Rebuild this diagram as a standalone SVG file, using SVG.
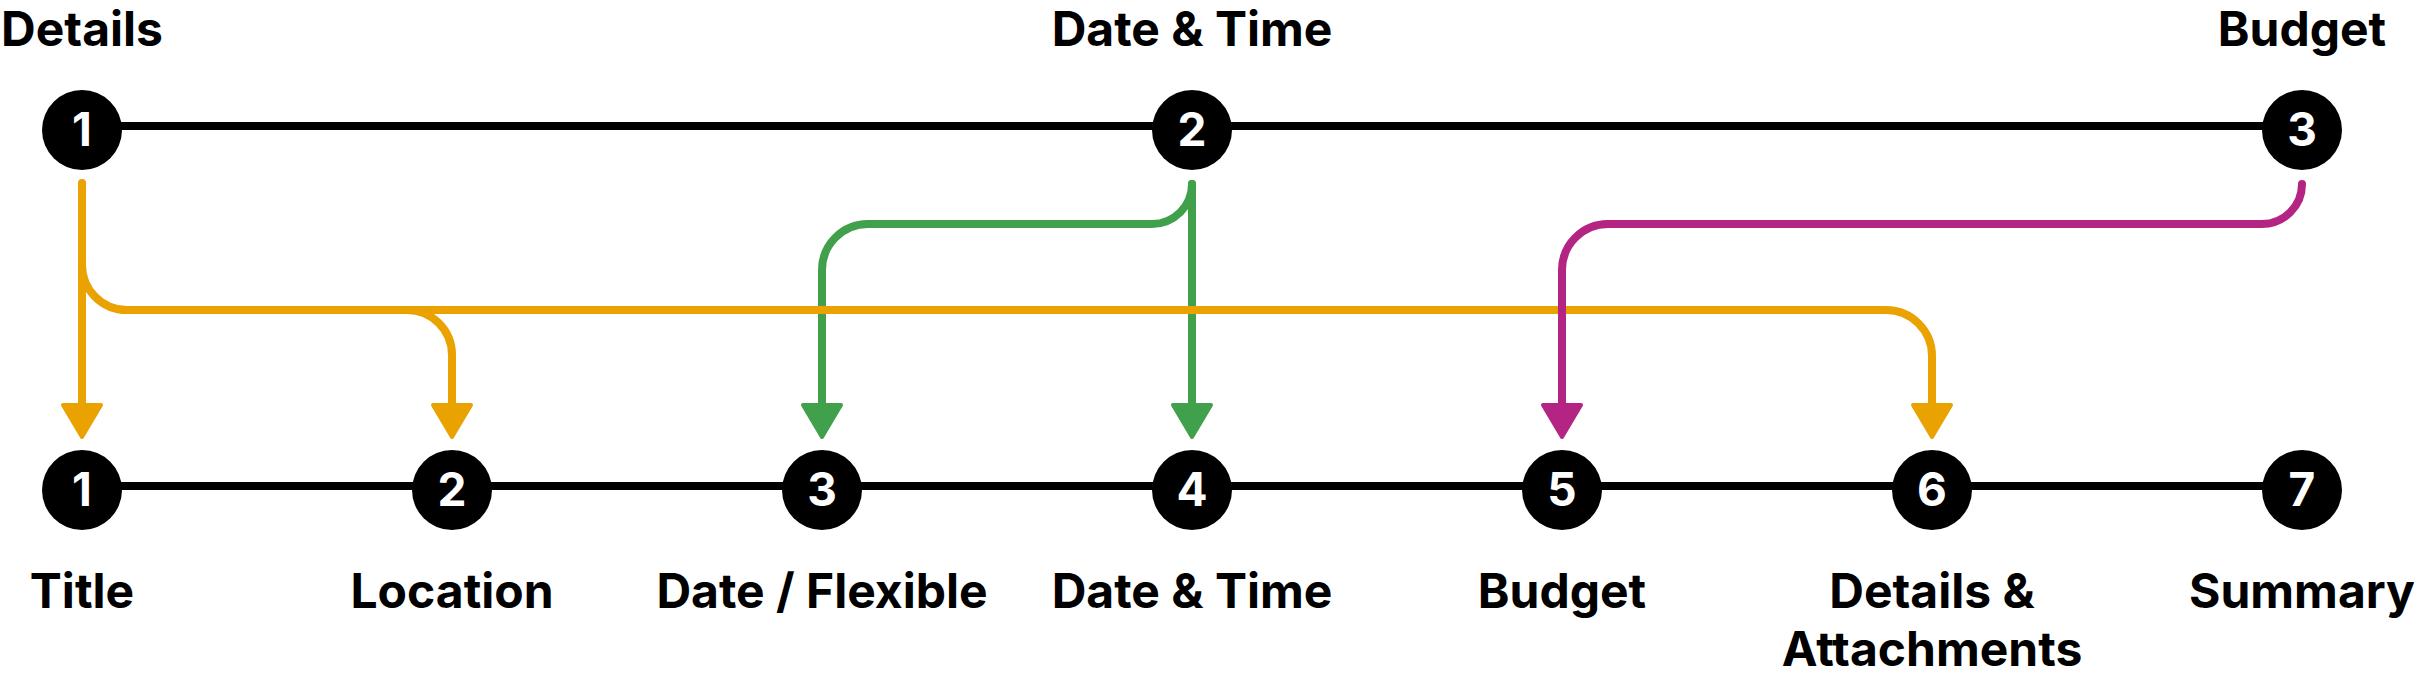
<svg xmlns="http://www.w3.org/2000/svg" width="2414" height="678" viewBox="0 0 2414 678">
<style>
.lbl{font-family:Inter,"Liberation Sans",sans-serif;font-weight:700;font-size:48px;fill:#000;text-anchor:middle}
.num{font-family:Inter,"Liberation Sans",sans-serif;font-weight:700;font-size:46px;fill:#fff;text-anchor:middle}
.dot{fill:#000}
.rail{stroke:#000;stroke-width:8;fill:none}
.c{fill:none;stroke-width:8;stroke-linecap:round}
.o{stroke:#E9A200}
.g{stroke:#40A04B}
.m{stroke:#B32483}
</style>
<defs>
<marker id="ao" markerUnits="userSpaceOnUse" viewBox="-4 -24 44 48" markerWidth="44" markerHeight="48" refX="0" refY="0" orient="auto" overflow="visible"><path d="M0,-19 L32,0 L0,19 Z" fill="#E9A200" stroke="#E9A200" stroke-width="4" stroke-linejoin="round"/></marker>
<marker id="ag" markerUnits="userSpaceOnUse" viewBox="-4 -24 44 48" markerWidth="44" markerHeight="48" refX="0" refY="0" orient="auto" overflow="visible"><path d="M0,-19 L32,0 L0,19 Z" fill="#40A04B" stroke="#40A04B" stroke-width="4" stroke-linejoin="round"/></marker>
<marker id="am" markerUnits="userSpaceOnUse" viewBox="-4 -24 44 48" markerWidth="44" markerHeight="48" refX="0" refY="0" orient="auto" overflow="visible"><path d="M0,-19 L32,0 L0,19 Z" fill="#B32483" stroke="#B32483" stroke-width="4" stroke-linejoin="round"/></marker>
</defs>
<g id="rails">
<line class="rail" x1="82" y1="126" x2="2302" y2="126"/>
<line class="rail" x1="82" y1="486" x2="2302" y2="486"/>
</g>
<g id="connectors">
<path class="c g" d="M1192,184 V405" marker-end="url(#ag)"/>
<path class="c g" d="M1192,184 A40,40 0 0 1 1152,224 H868 A46,46 0 0 0 822,270 V405" marker-end="url(#ag)"/>
<path class="c o" d="M82,183 V405" marker-end="url(#ao)"/>
<path class="c o" d="M82,265 A45,45 0 0 0 127,310 H1886 A46,46 0 0 1 1932,356 V405" marker-end="url(#ao)"/>
<path class="c o" d="M407,310 A45,45 0 0 1 452,355 V405" marker-end="url(#ao)"/>
<path class="c m" d="M2302,184 A40,40 0 0 1 2262,224 H1608 A46,46 0 0 0 1562,270 V405" marker-end="url(#am)"/>
</g>
<g id="top-1"><text class="lbl" x="82" y="46">Details</text><circle class="dot" cx="82" cy="130" r="40"/><text class="num" x="82" y="146">1</text></g>
<g id="top-2"><text class="lbl" x="1192" y="46">Date &amp; Time</text><circle class="dot" cx="1192" cy="130" r="40"/><text class="num" x="1192" y="146">2</text></g>
<g id="top-3"><text class="lbl" x="2302" y="46">Budget</text><circle class="dot" cx="2302" cy="130" r="40"/><text class="num" x="2302" y="146">3</text></g>
<g id="step-1"><circle class="dot" cx="82" cy="490" r="40"/><text class="num" x="82" y="506">1</text><text class="lbl" x="82" y="608">Title</text></g>
<g id="step-2"><circle class="dot" cx="452" cy="490" r="40"/><text class="num" x="452" y="506">2</text><text class="lbl" x="452" y="608">Location</text></g>
<g id="step-3"><circle class="dot" cx="822" cy="490" r="40"/><text class="num" x="822" y="506">3</text><text class="lbl" x="822" y="608">Date / Flexible</text></g>
<g id="step-4"><circle class="dot" cx="1192" cy="490" r="40"/><text class="num" x="1192" y="506">4</text><text class="lbl" x="1192" y="608">Date &amp; Time</text></g>
<g id="step-5"><circle class="dot" cx="1562" cy="490" r="40"/><text class="num" x="1562" y="506">5</text><text class="lbl" x="1562" y="608">Budget</text></g>
<g id="step-6"><circle class="dot" cx="1932" cy="490" r="40"/><text class="num" x="1932" y="506">6</text><text class="lbl" x="1932" y="608">Details &amp;</text><text class="lbl" x="1932" y="666">Attachments</text></g>
<g id="step-7"><circle class="dot" cx="2302" cy="490" r="40"/><text class="num" x="2302" y="506">7</text><text class="lbl" x="2302" y="608">Summary</text></g>
</svg>
